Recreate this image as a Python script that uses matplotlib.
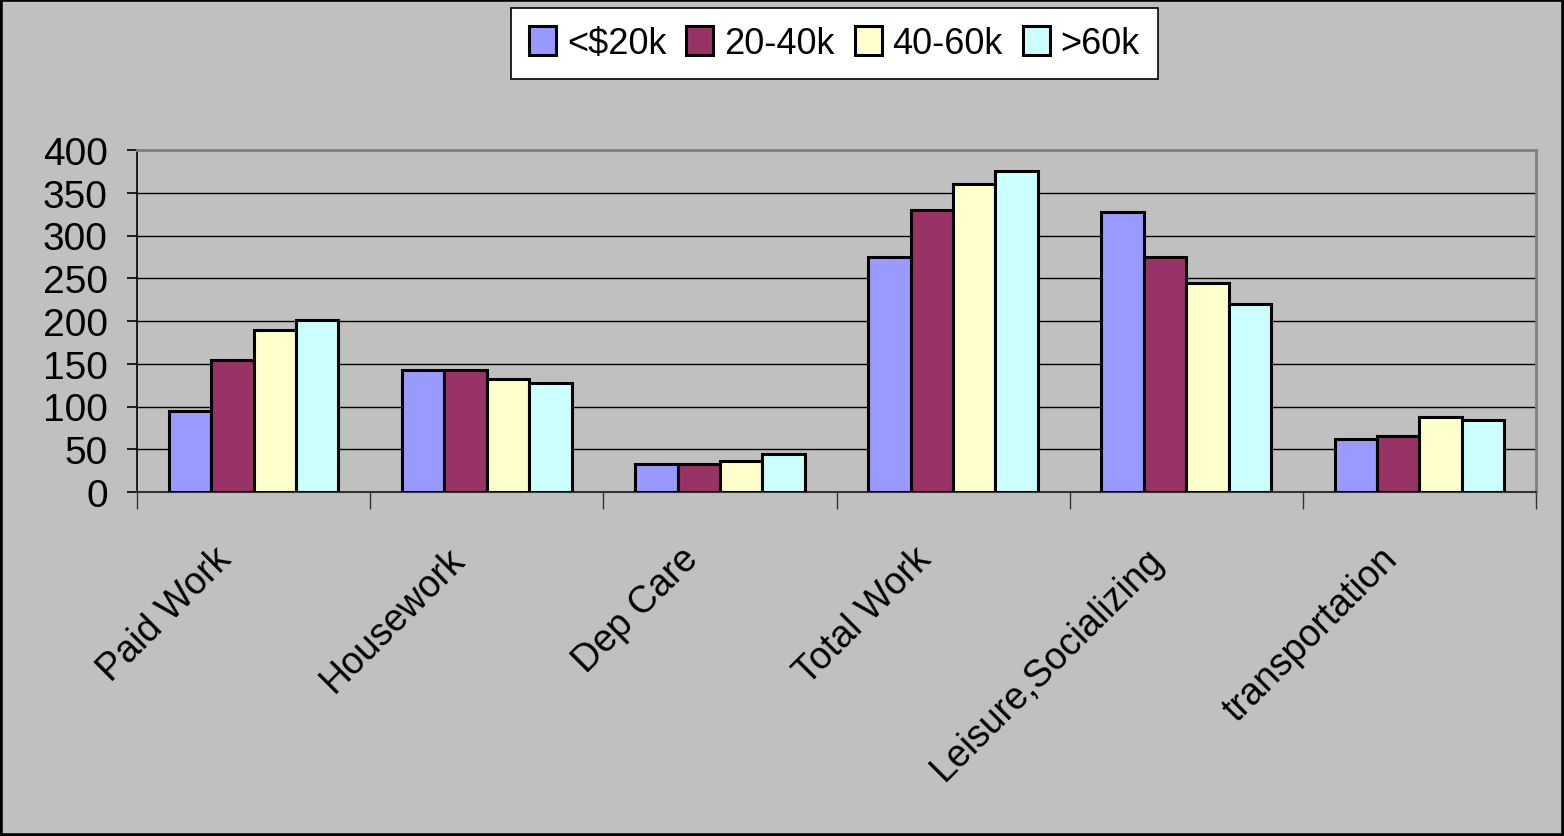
import matplotlib
matplotlib.use("Agg")
import matplotlib.pyplot as plt
import matplotlib.transforms as mtransforms
from matplotlib.patches import Rectangle
import numpy as np

categories = ["Paid Work", "Housework", "Dep Care", "Total Work",
              "Leisure,Socializing", "transportation"]
series_names = ["<$20k", "20-40k", "40-60k", ">60k"]
under_20k = [95, 143, 33, 275, 327, 62]
k20_40 = [154, 143, 33, 330, 275, 65]
k40_60 = [190, 132, 36, 360, 245, 88]
over_60k = [201, 128, 44, 375, 220, 84]
yticks = [0, 50, 100, 150, 200, 250, 300, 350, 400]

series = [under_20k, k20_40, k40_60, over_60k]
colors = ["#9999FF", "#993366", "#FFFFCC", "#CCFFFF"]

plt.rcParams['font.family'] = ['Liberation Sans', 'DejaVu Sans']

W, H = 1564, 837
fig = plt.figure(figsize=(W / 100, H / 100), dpi=100)
fig.patch.set_facecolor("#C0C0C0")
ax = fig.add_axes([137 / W, 1 - 493 / H, (1536 - 137) / W, (493 - 151) / H])
ax.set_facecolor("#C0C0C0")

n = len(categories)
x = np.arange(n)
bw = 1 / 5.5
for i, (vals, c, name) in enumerate(zip(series, colors, series_names)):
    ax.bar(x + (i - 1.5) * bw, vals, width=bw, color=c, edgecolor="black",
           linewidth=2.2, label=name, zorder=3)

ax.set_xlim(-0.5, n - 0.5)
ax.set_ylim(0, 400)
ax.set_yticks(yticks)
ax.set_yticklabels([str(v) for v in yticks], fontsize=28)
ax.tick_params(axis="y", direction="out", length=7, width=1.2, pad=14, colors="black")
ax.yaxis.grid(True, color="black", linewidth=1.0, zorder=1)
ax.set_axisbelow(True)

ax.set_xticks(np.arange(n + 1) - 0.5)
ax.set_xticklabels([""] * (n + 1))
ax.tick_params(axis="x", which="major", direction="out", length=12, width=1.0, color="#333333")
ax.set_xticks(x, minor=True)
ax.set_xticklabels(categories, minor=True, rotation=45, ha="right", fontsize=27)
ax.tick_params(axis="x", which="minor", length=0, pad=35)
offset = mtransforms.ScaledTranslation(-0.15, 0, fig.dpi_scale_trans)
for lab in ax.get_xticklabels(minor=True):
    lab.set_transform(lab.get_transform() + offset)

for s in ["top", "right"]:
    ax.spines[s].set_color("#808080")
    ax.spines[s].set_linewidth(2)
ax.spines["left"].set_color("black")
ax.spines["left"].set_linewidth(1.2)
ax.spines["bottom"].set_color("#333333")
ax.spines["bottom"].set_linewidth(1.5)

leg = fig.legend(loc="center", bbox_to_anchor=(834.5 / W, 1 - 44.5 / H), ncol=4,
                 fontsize=26, frameon=True, fancybox=False, edgecolor="black",
                 facecolor="white", framealpha=1, handlelength=0.75,
                 handleheight=0.85, handletextpad=0.3, columnspacing=0.55,
                 borderpad=0.5)
leg.get_frame().set_linewidth(1.2)

fig.patches.append(Rectangle((0, 0), 1, 1, transform=fig.transFigure, fill=False,
                             edgecolor="black", linewidth=4))

fig.savefig("out.png", dpi=100, facecolor=fig.get_facecolor())
